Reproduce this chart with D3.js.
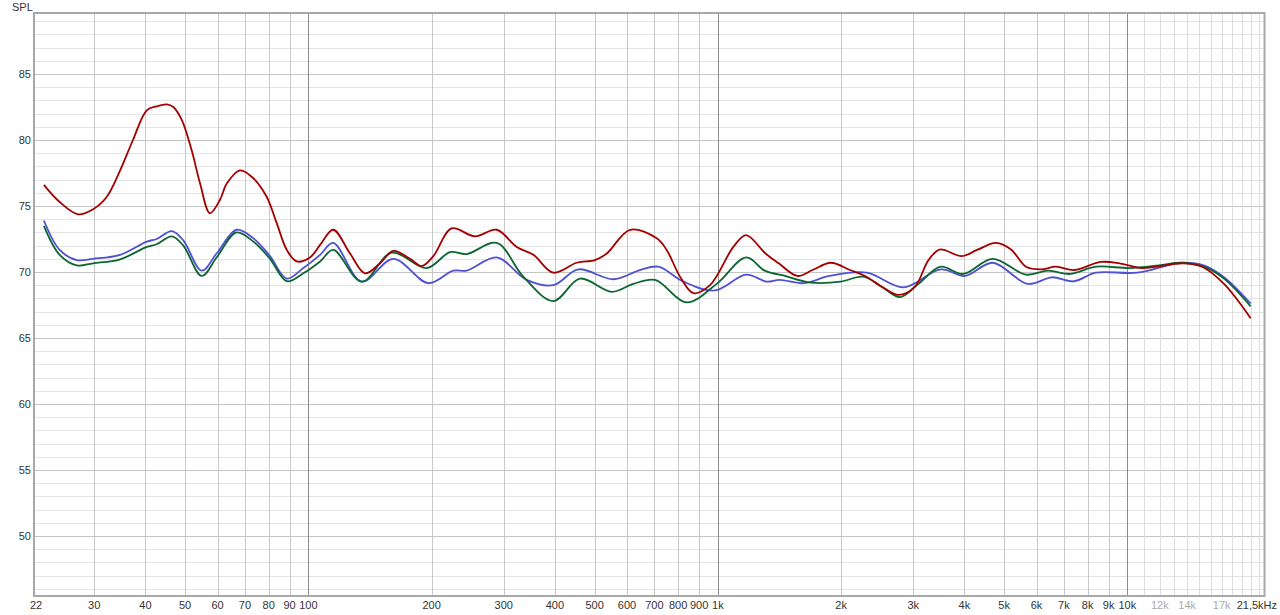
<!DOCTYPE html>
<html><head><meta charset="utf-8">
<script src="https://cdn.jsdelivr.net/npm/d3@7"></script>
<style>html,body{margin:0;padding:0;background:#fff;}svg{display:block;}</style>
</head><body>
<svg id="c" width="1280" height="615"></svg>
<script>
// ---- data ----
const redFreq = [22.6,24.7,27.4,29.8,32.2,34.7,37.3,40.3,42.6,45.1,46.8,49.1,51.9,54.4,57.5,60.8,63.2,68.1,73.4,79.1,83.7,88.6,93.7,100.9,106.8,115,126.4,137.5,149.6,161.2,177.1,189.2,201.9,223.8,255.2,288.4,322.7,354.4,396.5,452.1,501.2,535.4,610.2,708.9,749.9,808.2,871.2,956.8,1091,1172,1307,1408,1564,1702,1889,2102,2288,2537,2763,3029,3268,3482,3945,4294,4779,5199,5655,6153,6695,7428,8607,9567,10858,13674,15216,17219,20000];
const redDb = [76.6,75.3,74.37,74.75,75.7,77.7,80.0,82.25,82.55,82.7,82.5,81.5,79.2,76.7,74.45,75.45,76.7,77.7,77.1,75.7,73.7,71.67,70.8,71.1,72.05,73.2,71.4,69.9,70.66,71.6,71.0,70.45,71.2,73.3,72.7,73.2,71.9,71.3,69.95,70.7,70.9,71.4,73.2,72.55,71.67,69.65,68.4,69.0,71.9,72.8,71.4,70.66,69.7,70.15,70.7,70.15,69.7,68.8,68.26,68.9,70.9,71.7,71.2,71.67,72.2,71.7,70.4,70.2,70.4,70.15,70.76,70.66,70.3,70.66,70.4,69.1,66.5];
const greenFreq = [22.6,24.7,27.2,29.8,34.7,40.3,42.6,46.4,49.5,54.9,59.7,66.8,73.4,80.6,88.6,97.2,106.8,115,135,159.8,194.6,221.7,243.6,288.4,334.8,396.5,460.6,550.6,621.8,702.4,839.4,993.4,1173,1302,1459,1688,1995,2262,2509,2785,3090,3500,3969,4687,5655,6401,7245,8385,10127,11945,13560,15362,17219,20000];
const greenDb = [73.5,71.3,70.5,70.66,70.96,71.9,72.1,72.7,72.0,69.7,71.1,73.0,72.3,71.0,69.3,69.9,70.8,71.67,69.27,71.46,70.3,71.5,71.36,72.2,69.65,67.8,69.5,68.5,69.1,69.4,67.7,69.1,71.1,70.1,69.7,69.2,69.27,69.65,68.9,68.1,69.1,70.4,69.85,71.0,69.8,70.1,69.85,70.4,70.3,70.5,70.7,70.4,69.5,67.4];
const blueFreq = [22.6,24.7,27.2,29.8,34.7,40.3,42.6,46.4,49.5,54.9,59.7,66.8,73.4,80.6,88.6,97.2,106.8,115,135,161.2,196.3,225.9,243.6,288.4,341.2,396.5,456.3,555.6,645.4,715.3,823.6,982.7,1173,1316,1415,1621,1874,2309,2842,3500,4010,4687,5713,6538,7407,8385,10557,13560,15362,17219,20000];
const blueDb = [73.9,71.67,70.9,71.0,71.3,72.3,72.5,73.1,72.4,70.1,71.4,73.2,72.55,71.2,69.5,70.3,71.3,72.2,69.27,71.0,69.15,70.1,70.1,71.1,69.4,69.0,70.2,69.45,70.15,70.4,69.27,68.6,69.8,69.27,69.4,69.15,69.7,69.95,68.84,70.2,69.7,70.7,69.1,69.6,69.3,69.95,69.95,70.7,70.5,69.6,67.6];
const yTicks = [50,55,60,65,70,75,80,85];
const xTickVals = [22,30,40,50,60,70,80,90,100,200,300,400,500,600,700,800,900,1000,2000,3000,4000,5000,6000,7000,8000,9000,10000,12000,14000,17000];
const xTickLabels = ["22","30","40","50","60","70","80","90","100","200","300","400","500","600","700","800","900","1k","2k","3k","4k","5k","6k","7k","8k","9k","10k","12k","14k","17k"];
const greyLabels = ["12k","14k","17k"];
const endLabel = "21,5kHz";
const yTitle = "SPL";

// ---- chart ----
const svg = d3.select("#c");
const L = 35, R = 1263.5, T = 14, B = 595;
const x = d3.scaleLog().domain([21.5, 21500]).range([L, R]);
const y = d3.scaleLinear().domain([45.53, 89.545]).range([B, T]);

// grid
const g = svg.append("g");
const hMinor = d3.range(46, 90, 1);
g.selectAll(".hm").data(hMinor).join("line")
  .attr("x1", L).attr("x2", R)
  .attr("y1", d => Math.round(y(d)) + 0.5).attr("y2", d => Math.round(y(d)) + 0.5)
  .attr("stroke", d => d % 5 === 0 ? "#c4c4c4" : "#e4e4e4").attr("stroke-width", 1);

const vLines = [];
[10, 100, 1000, 10000].forEach(dec => {
  for (let m = 1; m <= 9; m++) {
    const f = dec * m;
    if (f > 21.5 && f < 21500) vLines.push(f);
  }
});
for (let f = 11000; f < 21500; f += 1000) vLines.push(f);
const major = new Set([100, 1000, 10000]);
g.selectAll(".v").data(vLines).join("line")
  .attr("x1", d => Math.round(x(d)) + 0.5).attr("x2", d => Math.round(x(d)) + 0.5)
  .attr("y1", T).attr("y2", B)
  .attr("stroke", d => major.has(d) ? "#8c8c8c" : (d > 10000 ? "#dedede" : "#c8c8c8"))
  .attr("stroke-width", 1);

// frame
svg.append("rect").attr("x", L - 1).attr("y", T - 1).attr("width", R - L + 2).attr("height", B - T + 2)
  .attr("fill", "none").attr("stroke", "#a8a8a8").attr("stroke-width", 2);

// axes labels
svg.append("g").selectAll("text").data(yTicks).join("text")
  .attr("x", 31).attr("y", d => y(d) + 4)
  .attr("text-anchor", "end").attr("font-family", "Liberation Sans, Arial, sans-serif")
  .attr("font-size", 11).attr("fill", "#333").text(d => d);

svg.append("g").selectAll("text").data(xTickVals).join("text")
  .attr("x", (d, i) => d === 22 ? x(d) - 3 : x(d)).attr("y", 609)
  .attr("text-anchor", "middle").attr("font-family", "Liberation Sans, Arial, sans-serif")
  .attr("font-size", 11)
  .attr("fill", (d, i) => greyLabels.includes(xTickLabels[i]) ? "#aaaaaa" : "#333")
  .text((d, i) => xTickLabels[i]);
svg.append("text").attr("x", 1277).attr("y", 609).attr("text-anchor", "end")
  .attr("font-family", "Liberation Sans, Arial, sans-serif").attr("font-size", 11).attr("fill", "#333")
  .text(endLabel);
svg.append("text").attr("x", 12).attr("y", 11)
  .attr("font-family", "Liberation Sans, Arial, sans-serif").attr("font-size", 11).attr("fill", "#333")
  .text(yTitle);

// curves
const line = d3.line().x(d => x(d[0])).y(d => y(d[1])).curve(d3.curveCatmullRom.alpha(0.5));
const series = [
  {f: blueFreq, v: blueDb, c: "#5050d2"},
  {f: greenFreq, v: greenDb, c: "#0b6631"},
  {f: redFreq, v: redDb, c: "#a40000"}
];
const clip = svg.append("clipPath").attr("id", "clp").append("rect")
  .attr("x", L).attr("y", T).attr("width", R - L).attr("height", B - T);
series.forEach(s => {
  svg.append("path").datum(s.f.map((f, i) => [f, s.v[i]]))
    .attr("d", line).attr("fill", "none").attr("stroke", s.c)
    .attr("stroke-width", 1.8).attr("clip-path", "url(#clp)");
});
</script>
</body></html>
